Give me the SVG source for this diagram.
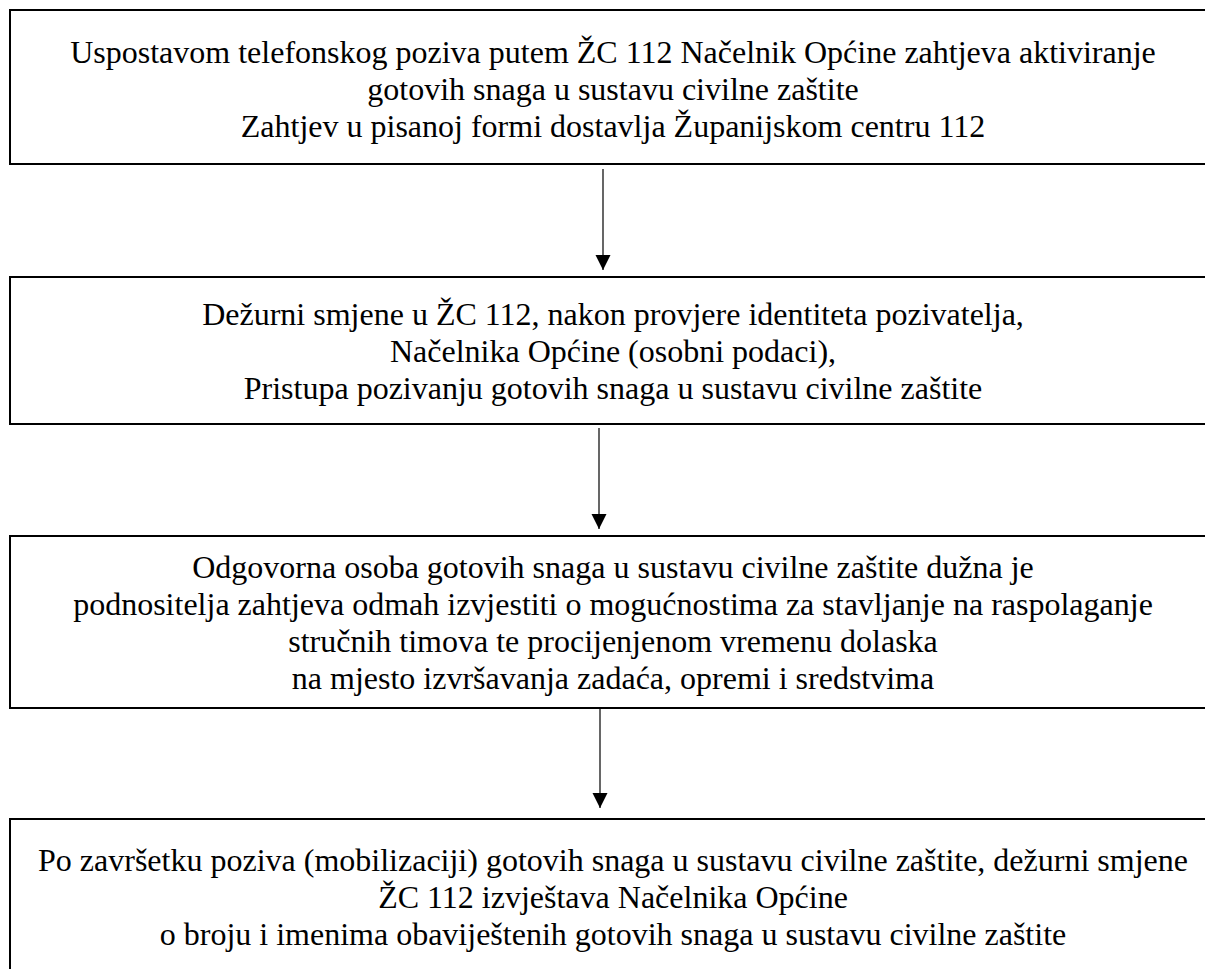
<svg xmlns="http://www.w3.org/2000/svg" width="1205" height="969" viewBox="0 0 1205 969">
  <style>
    .box { fill: #ffffff; stroke: #000000; stroke-width: 2; }
    .txt { font-family: "Liberation Serif", "Times New Roman", serif; font-size: 32px; fill: #000000; text-anchor: middle; }
    .conn { stroke: #000000; stroke-width: 1.2; fill: none; marker-end: url(#arrow); }
  </style>
  <defs>
    <marker id="arrow" markerUnits="userSpaceOnUse" markerWidth="16" markerHeight="16" refX="15" refY="7.5" orient="auto">
      <path d="M0,0 L15,7.5 L0,15 Z" fill="#000000"/>
    </marker>
  </defs>
  <rect x="0" y="0" width="1205" height="969" fill="#ffffff"/>

  <g id="node1">
    <rect class="box" x="10" y="10" width="1210" height="154"/>
    <text class="txt" x="613" y="63">Uspostavom telefonskog poziva putem ŽC 112 Načelnik Općine zahtjeva aktiviranje</text>
    <text class="txt" x="613" y="100">gotovih snaga u sustavu civilne zaštite</text>
    <text class="txt" x="613" y="137">Zahtjev u pisanoj formi dostavlja Županijskom centru 112</text>
  </g>

  <g id="node2">
    <rect class="box" x="10" y="277" width="1210" height="147"/>
    <text class="txt" x="613" y="325">Dežurni smjene u ŽC 112, nakon provjere identiteta pozivatelja,</text>
    <text class="txt" x="613" y="362">Načelnika Općine (osobni podaci),</text>
    <text class="txt" x="613" y="399">Pristupa pozivanju gotovih snaga u sustavu civilne zaštite</text>
  </g>

  <g id="node3">
    <rect class="box" x="10" y="536" width="1210" height="172"/>
    <text class="txt" x="613" y="578">Odgovorna osoba gotovih snaga u sustavu civilne zaštite dužna je</text>
    <text class="txt" x="613" y="615">podnositelja zahtjeva odmah izvjestiti o mogućnostima za stavljanje na raspolaganje</text>
    <text class="txt" x="613" y="652">stručnih timova te procijenjenom vremenu dolaska</text>
    <text class="txt" x="613" y="689">na mjesto izvršavanja zadaća, opremi i sredstvima</text>
  </g>

  <g id="node4">
    <rect class="box" x="10" y="819" width="1210" height="170"/>
    <text class="txt" x="613" y="871">Po završetku poziva (mobilizaciji) gotovih snaga u sustavu civilne zaštite, dežurni smjene</text>
    <text class="txt" x="613" y="908">ŽC 112 izvještava Načelnika Općine</text>
    <text class="txt" x="613" y="945">o broju i imenima obaviještenih gotovih snaga u sustavu civilne zaštite</text>
  </g>

  <g id="connectors">
    <line class="conn" x1="603" y1="169" x2="603" y2="270"/>
    <line class="conn" x1="599" y1="428" x2="599" y2="529"/>
    <line class="conn" x1="600" y1="708" x2="600" y2="808"/>
  </g>
</svg>
